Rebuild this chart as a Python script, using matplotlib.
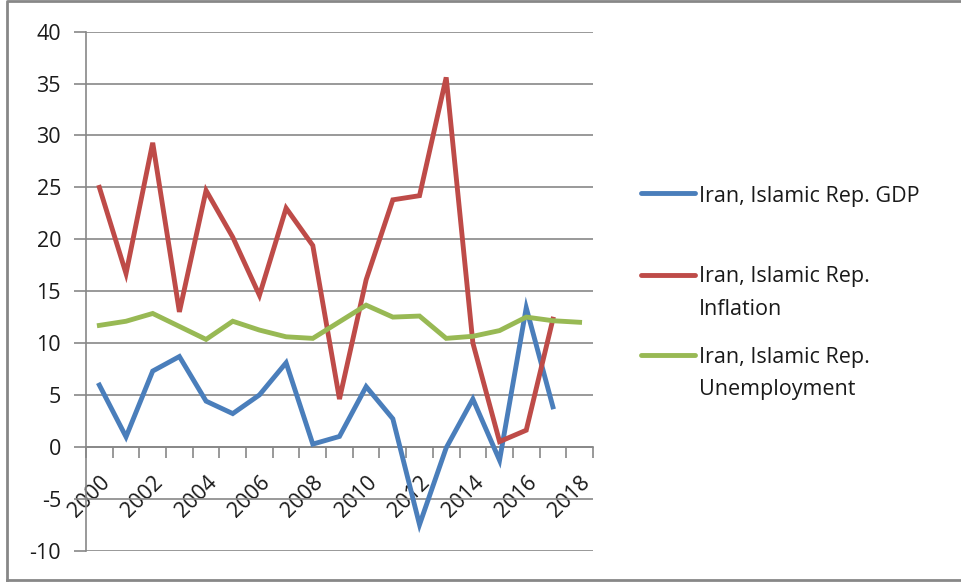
import matplotlib

matplotlib.use("Agg")
import matplotlib.pyplot as plt  # noqa: E402
from matplotlib.lines import Line2D  # noqa: E402

plt.rcParams["font.family"] = ["Open Sans", "DejaVu Sans"]
plt.rcParams["axes.unicode_minus"] = False

years = list(range(2000, 2019))
gdp = [5.95, 0.96, 7.3, 8.7, 4.4, 3.2, 5.0, 8.1, 0.26, 1.0, 5.8, 2.7, -7.5,
       -0.1, 4.6, -1.3, 13.4, 3.85, None]
inflation = [25.0, 16.7, 29.3, 13.0, 24.7, 20.2, 14.6, 23.0, 19.4, 4.6, 16.1,
             23.8, 24.2, 35.6, 10.0, 0.5, 1.6, 12.3, None]
unemployment = [11.7, 12.1, 12.85, 11.6, 10.35, 12.1, 11.25, 10.6, 10.45, 12.05,
                13.65, 12.5, 12.6, 10.45, 10.65, 11.2, 12.5, 12.15, 12.0]
series_labels = [["Iran, Islamic Rep. GDP"],
                 ["Iran, Islamic Rep.", "Inflation"],
                 ["Iran, Islamic Rep.", "Unemployment"]]
colors = ["#4A7EBB", "#BE4B48", "#98B954"]

grid_c = "#878787"
text_c = "#1a1a1a"
fs = 15.5

fig = plt.figure(figsize=(9.61, 5.83), dpi=100)
ax = fig.add_axes([0.0895, 0.0556, 0.5275, 0.89])

x = list(range(len(years)))
for vals, c in zip([gdp, inflation, unemployment], colors):
    xs = [i for i, v in zip(x, vals) if v is not None]
    ys = [v for v in vals if v is not None]
    ax.plot(xs, ys, color=c, lw=3.5, solid_joinstyle="miter", zorder=3)

ax.set_xlim(-0.5, len(years) - 0.5)
ax.set_ylim(-10, 40)
ax.set_yticks(range(-10, 41, 5))
ax.yaxis.grid(True, color=grid_c, lw=1.2)
ax.set_axisbelow(True)
ax.tick_params(axis="y", direction="out", length=9, width=1.2, color=grid_c,
               labelsize=fs, pad=9, labelcolor=text_c)

for s in ["top", "right"]:
    ax.spines[s].set_visible(False)
ax.spines["left"].set_color(grid_c)
ax.spines["left"].set_linewidth(1.2)
ax.spines["bottom"].set_position(("data", 0))
ax.spines["bottom"].set_color(grid_c)
ax.spines["bottom"].set_linewidth(1.2)

ax.set_xticks([i - 0.5 for i in range(len(years) + 1)], minor=True)
ax.set_xticks(x[::2])
ax.set_xticklabels([str(y) for y in years[::2]], rotation=45, ha="right",
                   rotation_mode="anchor", fontsize=fs, color=text_c)
ax.tick_params(axis="x", which="minor", direction="out", length=8, width=1.2,
               color=grid_c)
ax.tick_params(axis="x", which="major", length=0, pad=18)

# legend drawn in figure pixels
W, H = 961, 583
handle_y = [193, 275, 355]
text_base = [[202], [282, 315], [363, 395]]
for lines, c, hy, bases in zip(series_labels, colors, handle_y, text_base):
    fig.add_artist(Line2D([641 / W, 695 / W], [1 - hy / H, 1 - hy / H],
                          color=c, lw=3.5, solid_capstyle="round"))
    for txt, b in zip(lines, bases):
        fig.text(699 / W, 1 - b / H, txt, fontsize=fs, color=text_c,
                 va="baseline", ha="left")

# chart area border
fig.add_artist(Line2D([7 / W, 7 / W, 1.0], [1 - 580 / H, 1 - 1 / H, 1 - 1 / H],
                      color=grid_c, lw=2))
fig.add_artist(Line2D([7 / W, 1.0], [1 - 580 / H, 1 - 580 / H],
                      color=grid_c, lw=2))

fig.savefig("out.png", dpi=100)
